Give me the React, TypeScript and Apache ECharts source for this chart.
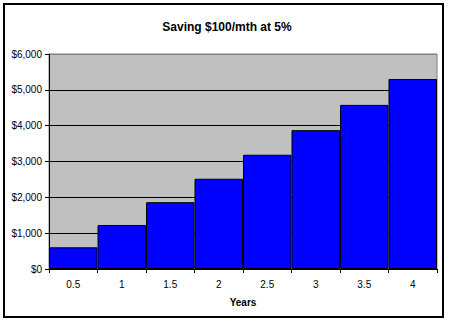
import React, { useEffect, useRef } from "react";
import * as echarts from "echarts";

const title = "Saving $100/mth at 5%";
const categories = ["0.5", "1", "1.5", "2", "2.5", "3", "3.5", "4"];
const savings = [606, 1228, 1865, 2519, 3188, 3875, 4580, 5301];
const yTicks = [0, 1000, 2000, 3000, 4000, 5000, 6000];
const xName = "Years";

const FONT = "Arial, 'Liberation Sans', sans-serif";

export default function App() {
  const ref = useRef<HTMLDivElement>(null);
  useEffect(() => {
    document.body.style.margin = "0";
    const chart = echarts.init(ref.current!, null, { renderer: "svg" });
    chart.setOption({
      animation: false,
      backgroundColor: "#ffffff",
      title: {
        text: title,
        left: 222,
        textAlign: "center",
        top: 16,
        textStyle: { fontFamily: FONT, fontSize: 12, fontWeight: "bold", color: "#000" },
      },
      graphic: [
        {
          type: "rect",
          shape: { x: 4, y: 4, width: 439, height: 313 },
          style: { fill: "none", stroke: "#000", lineWidth: 2 },
          z: 100,
        },
      ],
      grid: {
        left: 49,
        top: 54,
        right: 12,
        bottom: 55,
        show: true,
        backgroundColor: "#C0C0C0",
        borderColor: "#808080",
        borderWidth: 1,
      },
      xAxis: {
        type: "category",
        data: categories,
        name: xName,
        nameLocation: "middle",
        nameGap: 28,
        nameTextStyle: { fontFamily: FONT, fontSize: 10, fontWeight: "bold", color: "#000" },
        axisLine: { show: true, lineStyle: { color: "#000", width: 1 } },
        axisTick: { show: true, length: 4, lineStyle: { color: "#000" } },
        axisLabel: { fontFamily: FONT, fontSize: 10, color: "#000", margin: 10 },
      },
      yAxis: {
        type: "value",
        min: yTicks[0],
        max: yTicks[yTicks.length - 1],
        interval: 1000,
        axisLine: { show: true, lineStyle: { color: "#000", width: 1 } },
        axisTick: { show: true, length: 4, lineStyle: { color: "#000" } },
        axisLabel: {
          fontFamily: FONT,
          fontSize: 10,
          color: "#000",
          margin: 7,
          formatter: (v: number) => "$" + v.toLocaleString("en-US"),
        },
        splitLine: {
          show: true,
          lineStyle: { color: ["#000", "#000", "#000", "#000", "#000", "#000", "#808080"], width: 1 },
        },
      },
      series: [
        {
          type: "bar",
          data: savings,
          barCategoryGap: "0%",
          itemStyle: { color: "#0000FF", borderColor: "#000", borderWidth: 1 },
        },
      ],
    });
    return () => chart.dispose();
  }, []);
  return <div ref={ref} style={{ position: "absolute", left: 0, top: 0, width: 449, height: 324 }} />;
}
